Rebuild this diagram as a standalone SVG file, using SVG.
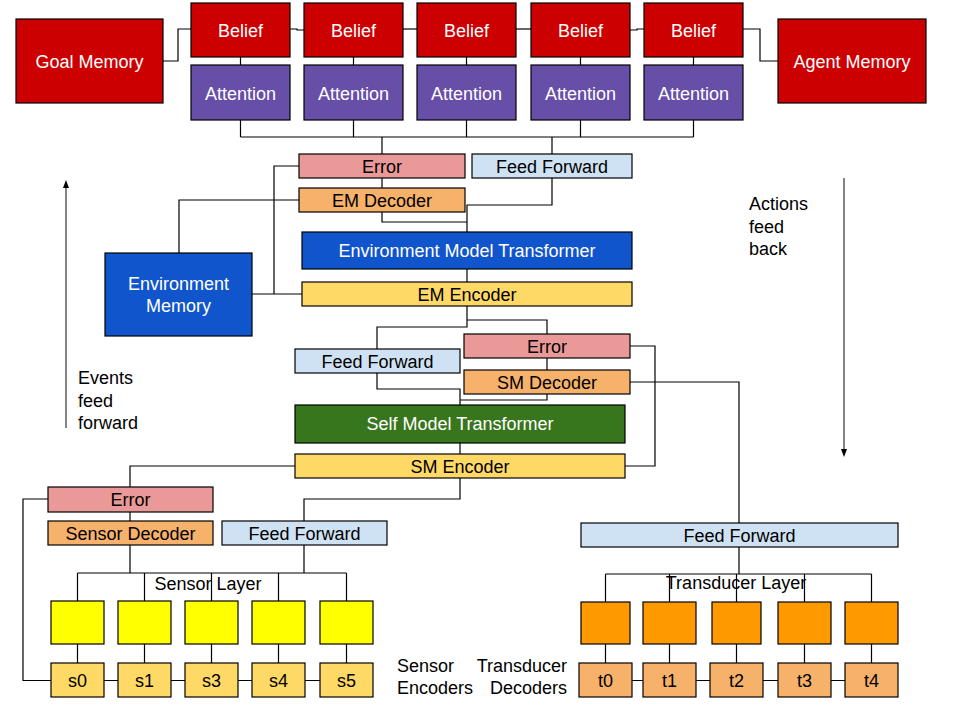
<svg xmlns="http://www.w3.org/2000/svg" width="960" height="720" viewBox="0 0 960 720">
<defs>
<style>
.b{stroke:#000;stroke-width:1.2}
.red{fill:#cc0000}.pur{fill:#674ea7}.blu{fill:#1155cc}.grn{fill:#38761d}
.err{fill:#ea9999}.ff{fill:#cfe2f3}.dec{fill:#f6b26b}.enc{fill:#ffd966}
.yel{fill:#ffff00}.org{fill:#ff9900}
text{font-family:"Liberation Sans",Arial,sans-serif;font-size:18px;fill:#000}
.w{fill:#fff}
.c{text-anchor:middle}
.r{text-anchor:end}
.ln{fill:none;stroke:#000;stroke-width:1.2}
.ar{fill:none;stroke:#333;stroke-width:1.2}
</style>
<marker id="ah" markerWidth="8" markerHeight="8" refX="4" refY="4" orient="auto" markerUnits="userSpaceOnUse">
<path d="M0,1 L8,4 L0,7 Z" fill="#000"/>
</marker>
</defs>
<rect width="960" height="720" fill="#fff"/>

<g id="connectors">
<path class="ln" d="M163,61 H178 V29 H191"/>
<path class="ln" d="M290,29 H297 V30 H304"/>
<path class="ln" d="M403,29 H417"/>
<path class="ln" d="M516,29 H531"/>
<path class="ln" d="M630,30 H637 V29 H644"/>
<path class="ln" d="M743,29 H760 V61 H778"/>
<path class="ln" d="M240.5,57 V65 M353.5,57 V65 M466.5,57 V65 M580.5,57 V65 M693.5,57 V65"/>
<path class="ln" d="M240.5,120 V137 M353.5,120 V137 M466.5,120 V137 M580.5,120 V137 M693.5,120 V137 M240.5,137 H693.5"/>
<path class="ln" d="M382,137 V154 M552,137 V154"/>
<path class="ln" d="M382,178 V188"/>
<path class="ln" d="M299,200 H179 V253"/>
<path class="ln" d="M299,166 H274 V294 M252,294 H302"/>
<path class="ln" d="M552,178 V205 H467 V232 M382,212 V222 H467"/>
<path class="ln" d="M467,269 V282"/>
<path class="ln" d="M467,306 V327 H377 V349 M467,320 H547 V334"/>
<path class="ln" d="M547,358 V370"/>
<path class="ln" d="M377,373 V389 H460 V405 M547,394 V400 H460"/>
<path class="ln" d="M630,346 H655 V466 H625"/>
<path class="ln" d="M630,382 H739 V523"/>
<path class="ln" d="M460,443 V454"/>
<path class="ln" d="M295,466 H130 V487"/>
<path class="ln" d="M460,478 V499 H304 V521"/>
<path class="ln" d="M130,512 V521"/>
<path class="ln" d="M48,499 H23 V680.5 H51"/>
<path class="ln" d="M130,545 V573 M304,545 V573 M77.5,573 H346.5 M77.5,573 V601 M144.5,573 V601 M211.5,573 V601 M278.5,573 V601 M346.5,573 V601"/>
<path class="ln" d="M77.5,644 V663 M144.5,644 V663 M211.5,644 V663 M278.5,644 V663 M346.5,644 V663"/>
<path class="ln" d="M104,680.5 H118 M171,680.5 H185 M238,680.5 H252 M305,680.5 H320"/>
<path class="ln" d="M739,547 V574 M605.5,574 H871.5 M605.5,574 V602 M669.5,574 V602 M736.5,574 V602 M804.5,574 V602 M871.5,574 V602"/>
<path class="ln" d="M605.5,644 V663 M669.5,644 V663 M736.5,644 V663 M804.5,644 V663 M871.5,644 V663"/>
<path class="ln" d="M632,680.5 H643 M696,680.5 H710 M763,680.5 H778 M831,680.5 H845"/>
<path class="ar" d="M66,428 V184" marker-end="url(#ah)"/>
<path class="ar" d="M844,178 V453" marker-end="url(#ah)"/>
</g>

<g id="goal-memory"><rect class="b red" x="16" y="19" width="147" height="84"/><text class="w c" x="89.5" y="68">Goal Memory</text></g>
<g id="agent-memory"><rect class="b red" x="778" y="19" width="148" height="84"/><text class="w c" x="852" y="68">Agent Memory</text></g>

<g id="belief-0"><rect class="b red" x="191" y="3" width="99" height="54"/><text class="w c" x="240.5" y="37">Belief</text></g>
<g id="belief-1"><rect class="b red" x="304" y="3" width="99" height="54"/><text class="w c" x="353.5" y="37">Belief</text></g>
<g id="belief-2"><rect class="b red" x="417" y="3" width="99" height="54"/><text class="w c" x="466.5" y="37">Belief</text></g>
<g id="belief-3"><rect class="b red" x="531" y="3" width="99" height="54"/><text class="w c" x="580.5" y="37">Belief</text></g>
<g id="belief-4"><rect class="b red" x="644" y="3" width="99" height="54"/><text class="w c" x="693.5" y="37">Belief</text></g>

<g id="attention-0"><rect class="b pur" x="191" y="65" width="99" height="55"/><text class="w c" x="240.5" y="100">Attention</text></g>
<g id="attention-1"><rect class="b pur" x="304" y="65" width="99" height="55"/><text class="w c" x="353.5" y="100">Attention</text></g>
<g id="attention-2"><rect class="b pur" x="417" y="65" width="99" height="55"/><text class="w c" x="466.5" y="100">Attention</text></g>
<g id="attention-3"><rect class="b pur" x="531" y="65" width="99" height="55"/><text class="w c" x="580.5" y="100">Attention</text></g>
<g id="attention-4"><rect class="b pur" x="644" y="65" width="99" height="55"/><text class="w c" x="693.5" y="100">Attention</text></g>

<g id="em-error"><rect class="b err" x="299" y="154" width="166" height="24"/><text class="c" x="382" y="173">Error</text></g>
<g id="em-feed-forward"><rect class="b ff" x="472" y="154" width="160" height="24"/><text class="c" x="552" y="173">Feed Forward</text></g>
<g id="em-decoder"><rect class="b dec" x="299" y="188" width="166" height="24"/><text class="c" x="382" y="207">EM Decoder</text></g>
<g id="em-transformer"><rect class="b blu" x="302" y="232" width="330" height="37"/><text class="w c" x="467" y="257">Environment Model Transformer</text></g>
<g id="em-encoder"><rect class="b enc" x="302" y="282" width="330" height="24"/><text class="c" x="467" y="301">EM Encoder</text></g>
<g id="environment-memory"><rect class="b blu" x="105" y="253" width="147" height="83"/><text class="w c" x="178.5" y="290">Environment</text><text class="w c" x="178.5" y="312">Memory</text></g>

<g id="sm-feed-forward"><rect class="b ff" x="295" y="349" width="165" height="24"/><text class="c" x="377.5" y="368">Feed Forward</text></g>
<g id="sm-error"><rect class="b err" x="464" y="334" width="166" height="24"/><text class="c" x="547" y="353">Error</text></g>
<g id="sm-decoder"><rect class="b dec" x="464" y="370" width="166" height="24"/><text class="c" x="547" y="389">SM Decoder</text></g>
<g id="sm-transformer"><rect class="b grn" x="295" y="405" width="330" height="38"/><text class="w c" x="460" y="430">Self Model Transformer</text></g>
<g id="sm-encoder"><rect class="b enc" x="295" y="454" width="330" height="24"/><text class="c" x="460" y="473">SM Encoder</text></g>

<g id="sensor-error"><rect class="b err" x="48" y="487" width="165" height="25"/><text class="c" x="130.5" y="506">Error</text></g>
<g id="sensor-decoder"><rect class="b dec" x="48" y="521" width="165" height="24"/><text class="c" x="130.5" y="540">Sensor Decoder</text></g>
<g id="sensor-feed-forward"><rect class="b ff" x="222" y="521" width="165" height="24"/><text class="c" x="304.5" y="540">Feed Forward</text></g>
<g id="transducer-feed-forward"><rect class="b ff" x="581" y="523" width="317" height="24"/><text class="c" x="739.5" y="542">Feed Forward</text></g>

<g id="sensor-layer">
<text class="c" x="208" y="590">Sensor Layer</text>
<rect class="b yel" x="51" y="601" width="53" height="43"/>
<rect class="b yel" x="118" y="601" width="53" height="43"/>
<rect class="b yel" x="185" y="601" width="53" height="43"/>
<rect class="b yel" x="252" y="601" width="53" height="43"/>
<rect class="b yel" x="320" y="601" width="53" height="43"/>
</g>
<g id="s0"><rect class="b enc" x="51" y="663" width="53" height="34"/><text class="c" x="77.5" y="687">s0</text></g>
<g id="s1"><rect class="b enc" x="118" y="663" width="53" height="34"/><text class="c" x="144.5" y="687">s1</text></g>
<g id="s3"><rect class="b enc" x="185" y="663" width="53" height="34"/><text class="c" x="211.5" y="687">s3</text></g>
<g id="s4"><rect class="b enc" x="252" y="663" width="53" height="34"/><text class="c" x="278.5" y="687">s4</text></g>
<g id="s5"><rect class="b enc" x="320" y="663" width="53" height="34"/><text class="c" x="346.5" y="687">s5</text></g>

<g id="transducer-layer">
<text class="c" x="736" y="589">Transducer Layer</text>
<rect class="b org" x="581" y="602" width="49" height="42"/>
<rect class="b org" x="643" y="602" width="53" height="42"/>
<rect class="b org" x="712" y="602" width="49" height="42"/>
<rect class="b org" x="778" y="602" width="53" height="42"/>
<rect class="b org" x="845" y="602" width="53" height="42"/>
</g>
<g id="t0"><rect class="b dec" x="579" y="663" width="53" height="34"/><text class="c" x="605.5" y="687">t0</text></g>
<g id="t1"><rect class="b dec" x="643" y="663" width="53" height="34"/><text class="c" x="669.5" y="687">t1</text></g>
<g id="t2"><rect class="b dec" x="710" y="663" width="53" height="34"/><text class="c" x="736.5" y="687">t2</text></g>
<g id="t3"><rect class="b dec" x="778" y="663" width="53" height="34"/><text class="c" x="804.5" y="687">t3</text></g>
<g id="t4"><rect class="b dec" x="845" y="663" width="53" height="34"/><text class="c" x="871.5" y="687">t4</text></g>

<g id="labels">
<text x="78" y="384">Events</text>
<text x="78" y="406.5">feed</text>
<text x="78" y="428.5">forward</text>
<text x="749" y="210">Actions</text>
<text x="749" y="232.5">feed</text>
<text x="749" y="254.5">back</text>
<text x="397" y="671.5">Sensor</text>
<text x="397" y="693.5">Encoders</text>
<text class="r" x="567" y="671.5">Transducer</text>
<text class="r" x="567" y="693.5">Decoders</text>
</g>
</svg>
